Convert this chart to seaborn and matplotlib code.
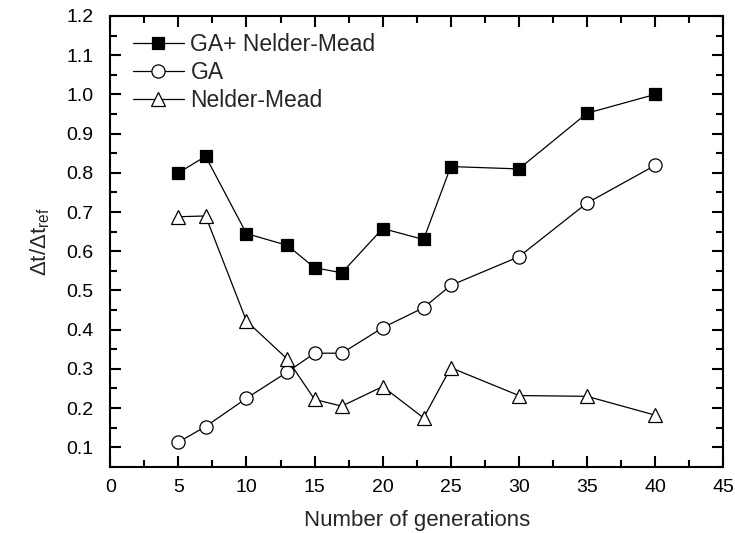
import matplotlib
matplotlib.use("Agg")
import matplotlib.pyplot as plt
import seaborn as sns
import pandas as pd
from matplotlib.ticker import MultipleLocator, FormatStrFormatter

generations = [5, 7, 10, 13, 15, 17, 20, 23, 25, 30, 35, 40]
ga_nm = [0.80, 0.842, 0.645, 0.615, 0.558, 0.545, 0.658, 0.630, 0.816, 0.810, 0.952, 1.000]
ga = [0.113, 0.153, 0.225, 0.292, 0.340, 0.340, 0.405, 0.456, 0.513, 0.586, 0.723, 0.819]
nelder_mead = [0.688, 0.690, 0.422, 0.325, 0.222, 0.205, 0.255, 0.175, 0.303, 0.232, 0.230, 0.182]

sns.set_style("ticks")
plt.rcParams["font.family"] = ["Liberation Sans", "DejaVu Sans"]
plt.rcParams["mathtext.default"] = "regular"

fig = plt.figure(figsize=(7.35, 5.33), dpi=100)
ax = fig.add_axes([0.150, 0.124, 0.834, 0.846])

series = [
    ("GA+ Nelder-Mead", ga_nm, dict(marker="s", markerfacecolor="black", markersize=8.5)),
    ("GA", ga, dict(marker="o", markerfacecolor="white", markersize=9.5)),
    ("Nelder-Mead", nelder_mead, dict(marker="^", markerfacecolor="white", markersize=10)),
]
for name, vals, style in series:
    df = pd.DataFrame({"gen": generations, "val": vals})
    sns.lineplot(data=df, x="gen", y="val", ax=ax, color="black", linewidth=0.9,
                 markeredgecolor="black", markeredgewidth=0.9, label=name, **style)

ax.set_xlim(0, 45)
ax.set_ylim(0.05, 1.2)
ax.xaxis.set_major_locator(MultipleLocator(5))
ax.xaxis.set_minor_locator(MultipleLocator(2.5))
ax.yaxis.set_major_locator(MultipleLocator(0.1))
ax.yaxis.set_minor_locator(MultipleLocator(0.05))
ax.yaxis.set_major_formatter(FormatStrFormatter("%.1f"))
ax.tick_params(which="both", direction="in", top=True, right=True, width=1.5, labelsize=14, colors="black")
ax.tick_params(which="major", length=8, pad=9)
ax.tick_params(which="minor", length=5)
ax.tick_params(axis="y", which="major", pad=12)
for sp in ax.spines.values():
    sp.set_linewidth(1.5)
    sp.set_color("black")
    sp.set_visible(True)

ax.set_xlabel("Number of generations", fontsize=16, labelpad=10)
ax.set_ylabel("Δt/Δt$_{ref}$", fontsize=16, labelpad=10)

leg = ax.legend(loc="upper left", bbox_to_anchor=(0.015, 0.993), frameon=False, fontsize=16.5,
                handlelength=2.2, labelspacing=0.22, handletextpad=0.3, borderaxespad=0.2)

fig.savefig("out.png", dpi=100)
